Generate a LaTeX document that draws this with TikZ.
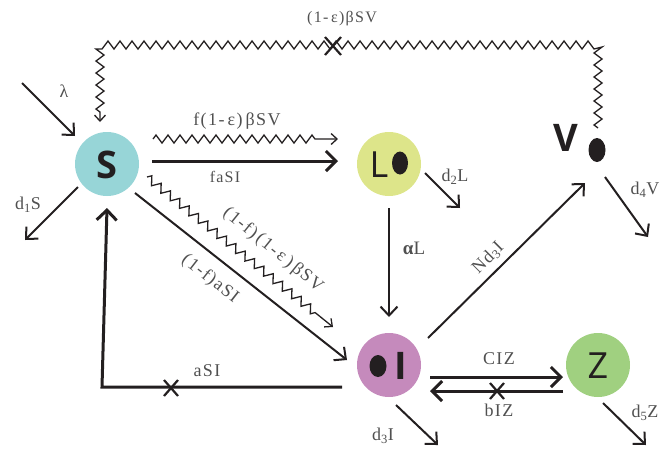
\documentclass[tikz,border=0pt]{standalone}
\usepackage{fontspec}
\setmainfont{Liberation Serif}
\newfontfamily\letterfont{Open Sans}
\newfontfamily\labfont[LetterSpace=8]{Liberation Serif}
\usetikzlibrary{arrows.meta,decorations.pathmorphing}

\definecolor{scol}{HTML}{97D5D7}
\definecolor{lcol}{HTML}{DDE58A}
\definecolor{icol}{HTML}{C58ABC}
\definecolor{zcol}{HTML}{A0D080}
\definecolor{ink}{HTML}{231F20}
\definecolor{labelgray}{HTML}{505050}

\tikzset{
  compartment/.style={circle, minimum size=64pt, inner sep=0pt},
  letter/.style={font=\letterfont\fontsize{36}{36}\selectfont, text=ink, inner sep=0pt},
  boldletter/.style={letter, font=\letterfont\bfseries\fontsize{38}{38}\selectfont},
  lab/.style={font=\labfont\fontsize{18}{18}\selectfont, text=labelgray, inner sep=1pt},
  smalllab/.style={font=\labfont\fontsize{16}{16}\selectfont, text=labelgray, inner sep=1pt},
  thickarrow/.style={draw=ink, line width=3pt, -{Straight Barb[length=10pt,width=20pt]}},
  midarrow/.style={draw=ink, line width=2pt, -{Straight Barb[length=9pt,width=17pt]}},
  wiggle/.style={draw=ink, line width=1.3pt,
    decorate, decoration={zigzag, segment length=12pt, amplitude=4pt, post length=18pt}},
  loopwiggle/.style={draw=ink, line width=1.3pt,
    decorate, decoration={zigzag, segment length=12pt, amplitude=4pt, post length=10pt}},
  wigglearrow/.style={wiggle, -{Straight Barb[length=6pt,width=11pt]}},
  crossmark/.style={draw=ink, line width=2.2pt},
}

\begin{document}
\begin{tikzpicture}[x=1pt, y=-1pt]
\useasboundingbox (0,0) rectangle (661,448);

% compartments
\node[compartment, fill=scol] (S) at (107,164) {};
\node[boldletter] (Stext) at (107,165) {S};

\node[compartment, fill=lcol] (L) at (389,164) {};
\node[letter] (Ltext) at (379,165) {L};
\fill[ink] (400,163) ellipse (8 and 11.5);

\node[compartment, fill=icol] (I) at (389,365) {};
\node[boldletter] (Itext) at (401,366) {I};
\fill[ink] (378,366) ellipse (8.5 and 11);

\node[compartment, fill=zcol] (Z) at (598,365) {};
\node[letter] (Ztext) at (598,366) {Z};

\node[boldletter] (V) at (566,138) {V};
\coordinate (Vdot) at (597,150);
\fill[ink] (Vdot) ellipse (8.5 and 12);

% inflow and outflows of S
\coordinate (lamsrc) at (22,83);
\draw[midarrow] (lamsrc) -- ([shift={(-32,-28)}]S.center);
\node[lab] (lam) at (64,91) {λ};

\coordinate (d1end) at (25,240);
\draw[midarrow] ([shift={(-29,23)}]S.center) -- (d1end);
\node[lab] (d1lab) at (28,205) {d\textsubscript{1}S};

% viral loop from V back to S
\draw[loopwiggle, -{Straight Barb[length=6pt,width=11pt]}]
  ([shift={(1,-22)}]Vdot) -- (598,45) -- (100,45) -- ([shift={(-7,-42)}]S.center);
\draw[crossmark] (333,46) +(-8,-9) -- +(8,9) +(-8,9) -- +(8,-9);
\node[smalllab] (topflux) at (342,19) {(1-\,ε)βSV};

% S to L
\draw[wigglearrow] ([shift={(46,-25)}]S.center) -- ([shift={(-51,-25)}]L.center);
\node[lab] (fSV) at (237,121) {f(1-\,ε)\,βSV};
\draw[thickarrow] ([shift={(45,-3)}]S.center) -- ([shift={(-51,-3)}]L.center);
\node[smalllab] (faSI) at (225,177) {faSI};

% S to I
\draw[wigglearrow] ([shift={(40,13)}]S.center) -- ([shift={(-56,-38)}]I.center);
\node[lab, rotate=-39] (fSVdiag) at (273,250) {(1-f)\,(1-\,ε\,)\,βSV};
\draw[midarrow] ([shift={(28,29)}]S.center) -- ([shift={(-42,-5)}]I.center);
\node[lab, rotate=-38] (faSIdiag) at (210,279) {(1-f)aSI};

% L outflows
\draw[midarrow] ([yshift=-44pt]L.center) -- ([yshift=48pt]I.center);
\node[lab, font=\labfont\fontsize{19}{19}\selectfont] (alphaL) at (414,248) {{\bfseries α}L};
\draw[midarrow] ([shift={(36,9)}]L.center) -- ([shift={(71,44)}]L.center);
\node[lab] (d2lab) at (455,177) {d\textsubscript{2}L};

% I outflows
\draw[midarrow] ([shift={(39,-27)}]I.center) -- ([shift={(-12,33)}]Vdot);
\node[lab, rotate=45] (Nd3I) at (488,258) {Nd\textsubscript{3}I};
\draw[midarrow] ([shift={(7,40)}]I.center) -- ([shift={(49,80)}]I.center);
\node[lab] (d3lab) at (383,436) {d\textsubscript{3}I};

\draw[thickarrow] ([shift={(-47,22)}]I.center) -- (102,387) -- ([yshift=-44pt]S.center);
\draw[crossmark] (171,388) +(-7,-8) -- +(7,8) +(-7,8) -- +(7,-8);
\node[lab] (aSI) at (207,371) {aSI};

% I and Z exchange
\draw[thickarrow] ([shift={(41,12)}]I.center) -- ([shift={(-35,12)}]Z.center);
\node[lab] (CIZ) at (499,359) {CIZ};
\draw[thickarrow] ([shift={(-35,26)}]Z.center) -- ([shift={(41,26)}]I.center);
\draw[crossmark] (497,391) +(-7,-8) -- +(7,8) +(-7,8) -- +(7,-8);
\node[lab] (bIZ) at (499,410) {bIZ};

% Z and V outflows
\draw[midarrow] ([shift={(5,38)}]Z.center) -- ([shift={(48,80)}]Z.center);
\node[lab] (d5lab) at (645,413) {d\textsubscript{5}Z};
\draw[midarrow] ([shift={(8,27)}]Vdot) -- ([shift={(51,87)}]Vdot);
\node[lab] (d4lab) at (645,190) {d\textsubscript{4}V};
\end{tikzpicture}
\end{document}
